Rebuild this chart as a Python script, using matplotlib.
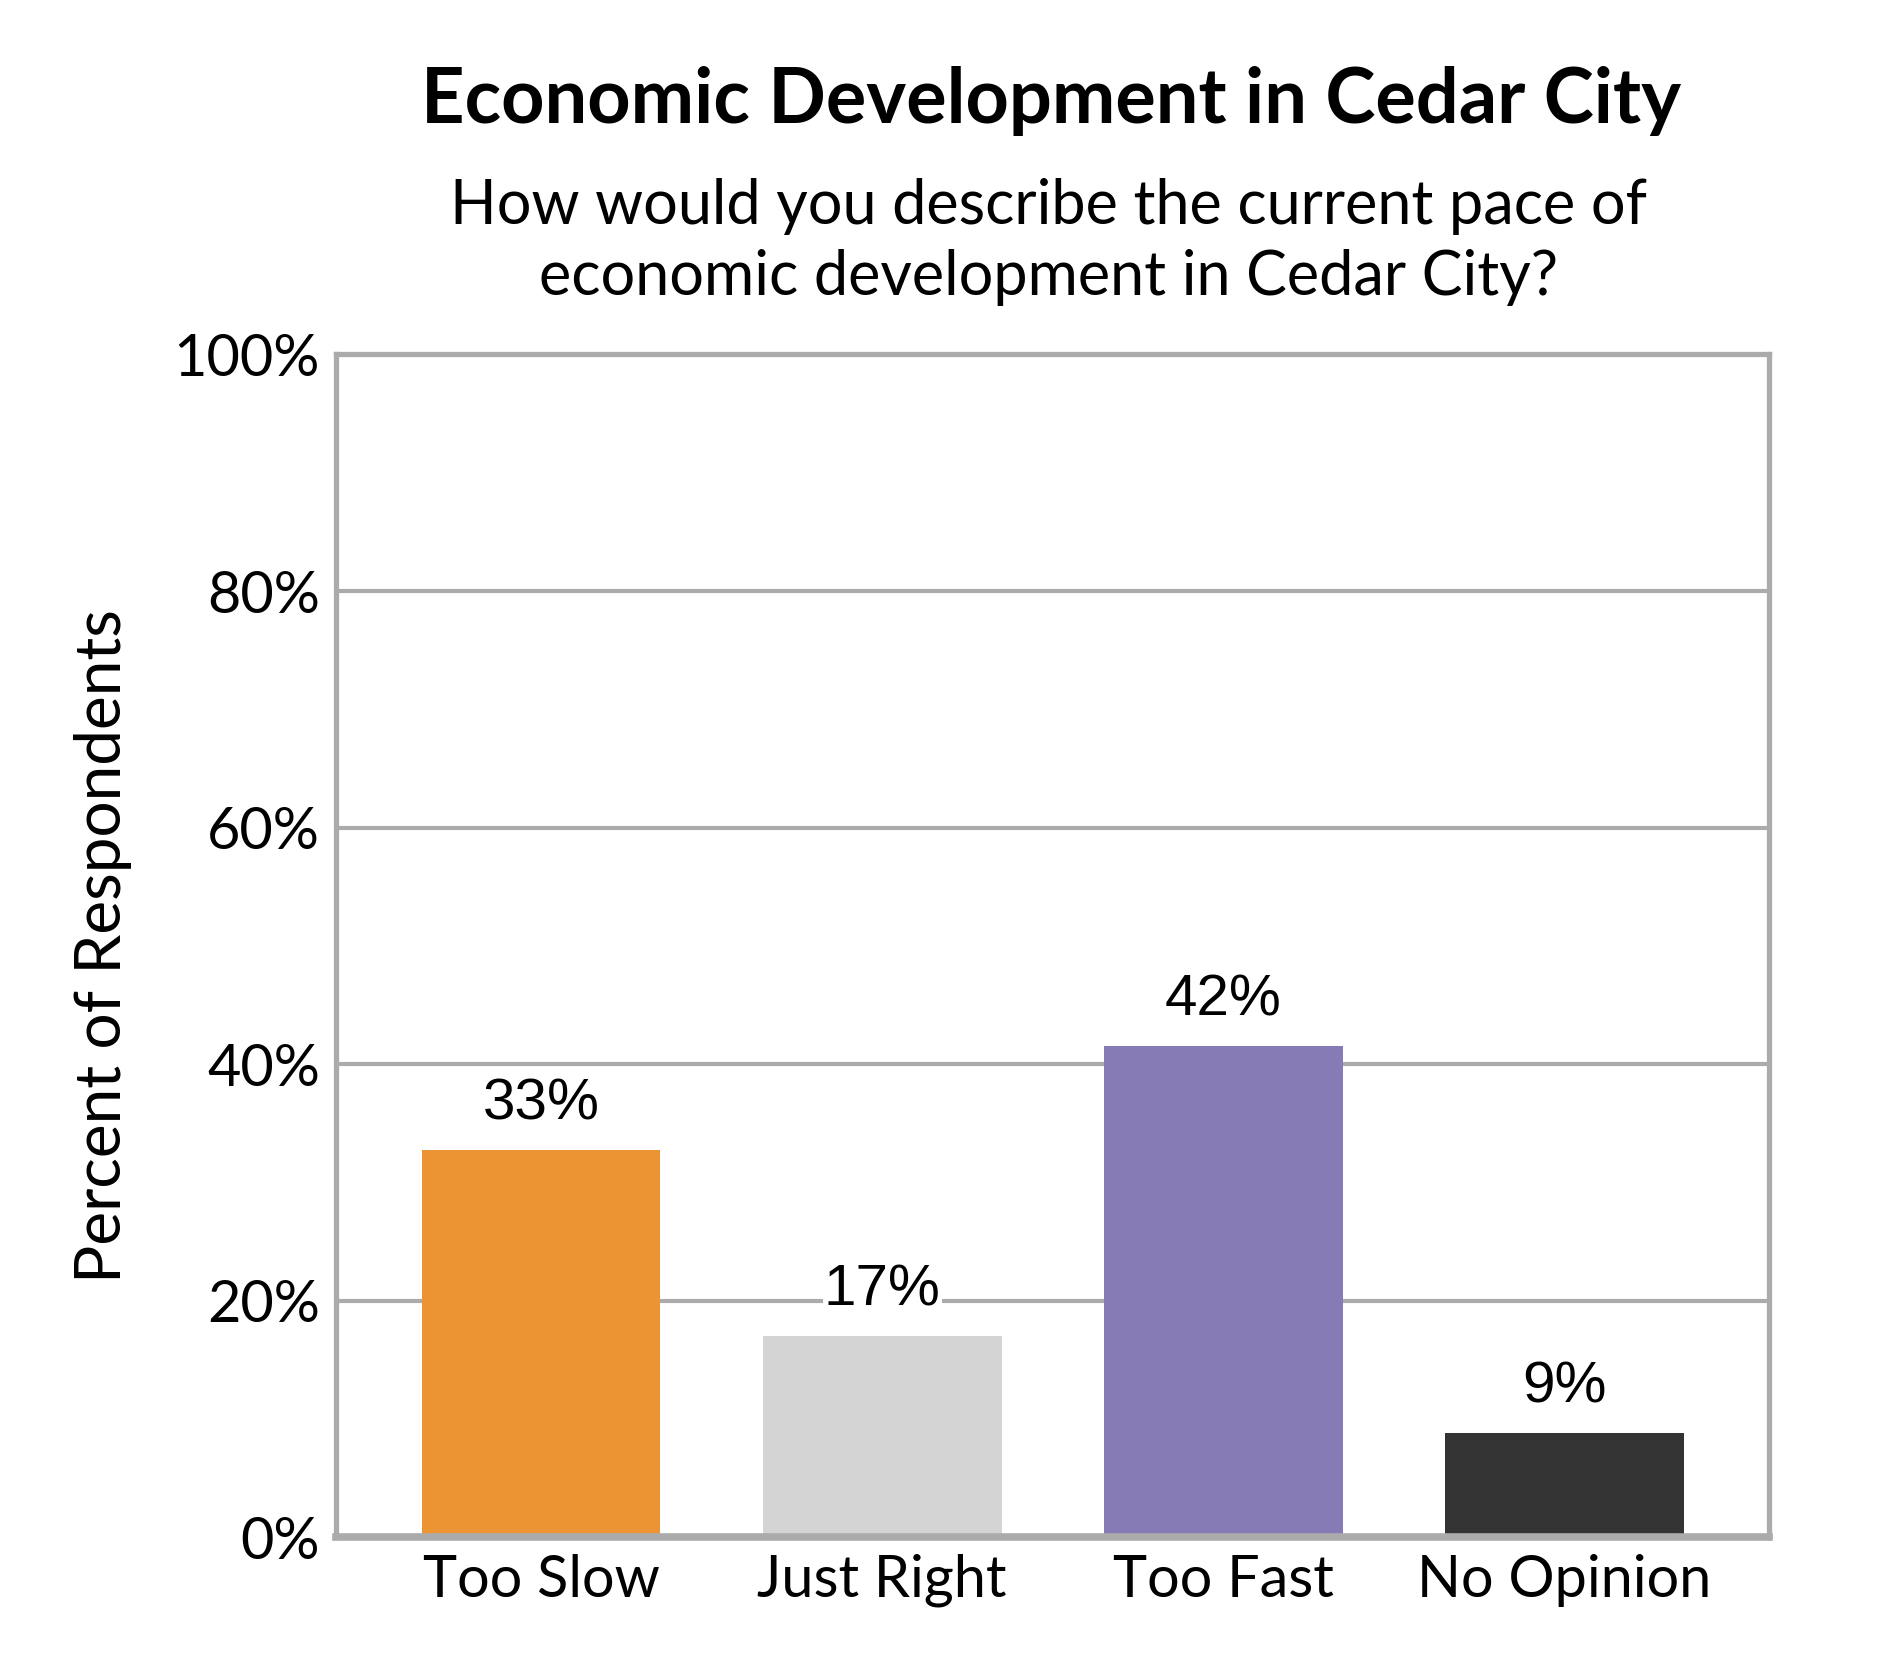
import matplotlib
matplotlib.use("Agg")
import matplotlib.pyplot as plt

categories = ["Too Slow", "Just Right", "Too Fast", "No Opinion"]
values = [32.7, 17.0, 41.5, 8.8]
value_labels = ["33%", "17%", "42%", "9%"]
colors = ["#EC9433", "#D4D4D4", "#877BB5", "#333333"]
yticks = [0, 20, 40, 60, 80, 100]
ytick_labels = ["0%", "20%", "40%", "60%", "80%", "100%"]

title = "Economic Development in Cedar City"
subtitle = "How would you describe the current pace of\neconomic development in Cedar City?"
ylabel = "Percent of Respondents"

FONT = ["Lato", "DejaVu Sans"]
VALFONT = ["Liberation Sans", "DejaVu Sans"]
GRID = "#ABABAB"

fig = plt.figure(figsize=(18.9, 16.8), dpi=100)
ax = fig.add_axes([0.178, 0.085, 0.758, 0.704])

x = range(len(categories))
ax.bar(x, values, width=0.70, color=colors, zorder=3)
ax.set_xlim(-0.6, 3.6)
ax.set_ylim(0, 100)
ax.set_yticks(yticks)
ax.set_yticklabels(ytick_labels, fontfamily=FONT, fontsize=41.5)
ax.set_xticks(list(x))
ax.set_xticklabels(categories, fontfamily=FONT, fontsize=41.5)
ax.tick_params(axis="both", length=0)
ax.tick_params(axis="y", pad=12)
ax.tick_params(axis="x", pad=12)
ax.yaxis.grid(True, color=GRID, linewidth=3.0, zorder=1)
ax.set_axisbelow(True)
for s in ["left", "right", "top"]:
    ax.spines[s].set_color(GRID)
    ax.spines[s].set_linewidth(3.8)
ax.spines["bottom"].set_color(GRID)
ax.spines["bottom"].set_linewidth(5.5)
ax.spines["bottom"].set_zorder(4)

for xi, v, lab in zip(x, values, value_labels):
    ax.text(xi, v + 1.6, lab, ha="center", va="bottom", fontfamily=VALFONT,
            fontsize=42, zorder=5,
            bbox=dict(facecolor="white", edgecolor="none", pad=1))

ax.set_ylabel(ylabel, fontfamily=FONT, fontsize=46, labelpad=30)

fig.text(0.556, 0.940, title, ha="center", va="center", fontfamily=FONT,
         fontsize=54.5, fontweight="bold")
fig.text(0.555, 0.856, subtitle, ha="center", va="center", fontfamily=FONT,
         fontsize=44, linespacing=1.3)

fig.savefig("out.png", dpi=100, facecolor="white")
